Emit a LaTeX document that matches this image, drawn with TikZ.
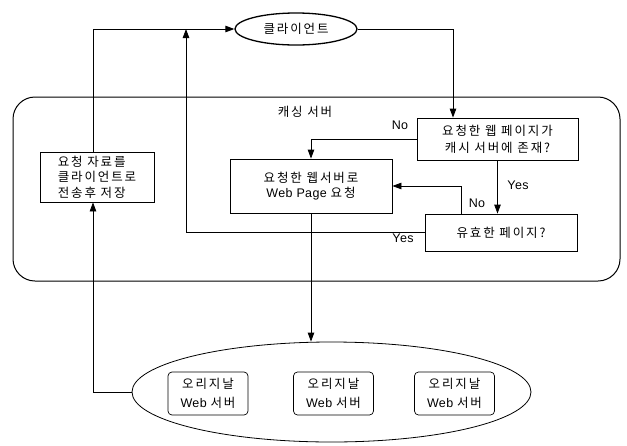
\documentclass[tikz,border=0pt]{standalone}
\usepackage{fontspec}
\setmainfont{Liberation Sans}[LetterSpace=3]
\newfontfamily\krfont{Noto Sans CJK KR}[LetterSpace=15]
\newcommand\kr[1]{{\krfont #1}}
\usetikzlibrary{shapes.geometric,arrows.meta}
\tikzset{
  box/.style={draw,line width=0.8pt,inner sep=2pt,font=\fontsize{12.5}{15.5}\selectfont,align=center},
  obox/.style={draw,line width=0.7pt,rounded corners=4pt,minimum width=80pt,minimum height=43pt,inner sep=1pt,font=\fontsize{12.5}{19}\selectfont,align=center},
  arr/.style={line width=0.8pt,-{Triangle[width=6.5pt,length=9pt]}},
  lbl/.style={font=\fontsize{12.5}{14}\selectfont,inner sep=0pt}
}
\begin{document}
\begin{tikzpicture}[x=1pt,y=-1pt]
\useasboundingbox (0,0) rectangle (627,445);
% caching server frame
\node[draw,line width=1pt,rounded corners=22pt,minimum width=607pt,minimum height=184pt,inner sep=0pt] (cache) at (316.5,189) {};
\node[lbl] (cachelabel) at (305,112) {\kr{캐싱 서버}};
% client
\node[draw,ellipse,line width=1.3pt,minimum width=122pt,minimum height=32pt,inner sep=0pt,font=\fontsize{12.5}{14}\selectfont] (client) at (296,29) {\kr{클라이언트}};
% boxes
\node[box,minimum width=114pt,minimum height=50pt,align=left] (store) at (97,177) {\kr{요청 자료를}\\\kr{클라이언트로}\\\kr{전송후 저장}};
\node[box,minimum width=161pt,minimum height=42pt,font=\fontsize{12.5}{17}\selectfont] (check) at (497.5,139) {\kr{요청한 웹 페이지가}\\\kr{캐시 서버에 존재?}};
\node[box,minimum width=162pt,minimum height=54pt] (req) at (311,186) {\kr{요청한 웹서버로}\\Web Page \kr{요청}};
\node[box,minimum width=152pt,minimum height=37pt] (valid) at (501,232.5) {\kr{유효한 페이지?}};
% origin servers
\node[draw,ellipse,line width=0.8pt,minimum width=399pt,minimum height=100pt,inner sep=0pt] (origin) at (331.5,392) {};
\node[obox] (o1) at (208,393.5) {\kr{오리지날}\\Web \kr{서버}};
\node[obox] (o2) at (333.5,393.5) {\kr{오리지날}\\Web \kr{서버}};
\node[obox] (o3) at (454.5,393.5) {\kr{오리지날}\\Web \kr{서버}};
% junction coordinates
\coordinate (jr) at (453,29);
\coordinate (jt) at (186,29);
\coordinate (jn) at (461,0);
% connectors
\draw[arr,line width=1pt] ([xshift=-4pt]store.north) |- (client.west);
\draw[arr,line width=1pt] (client.east) -| (check.north -| jr);
\draw[arr] (check.west) -| (req.north);
\draw[arr] (check.south) -- (check.south |- valid.north);
\draw[arr] (valid.north -| jn) |- (req.east);
\draw[arr] (valid.west) -| (jt);
\draw[arr] (req.south) -- (req.south |- origin.north);
\draw[arr] (origin.west) -| ([xshift=-4pt]store.south);
% labels
\node[lbl] (no1) at (400,125) {No};
\node[lbl] (yes1) at (518,185) {Yes};
\node[lbl] (no2) at (477,203) {No};
\node[lbl] (yes2) at (403,238) {Yes};
\end{tikzpicture}
\end{document}
